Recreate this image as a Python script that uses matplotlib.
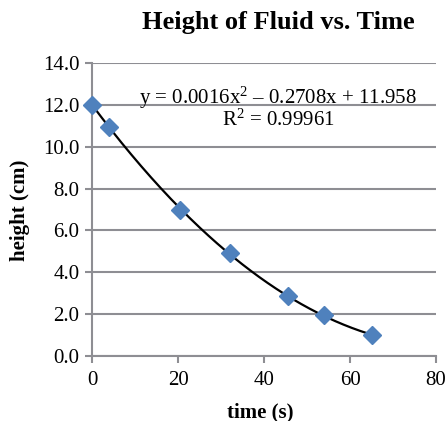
import matplotlib.pyplot as plt
import numpy as np

# values
time_s = [0, 4, 20.5, 32, 45.5, 54, 65]
height_cm = [12.0, 10.95, 7.0, 4.9, 2.85, 1.95, 1.0]
y_ticks = [0, 2, 4, 6, 8, 10, 12, 14]
x_ticks = [0, 20, 40, 60, 80]

plt.rcParams['font.family'] = ['Liberation Serif', 'DejaVu Serif']
plt.rcParams['mathtext.fontset'] = 'custom'
plt.rcParams['mathtext.rm'] = 'Liberation Serif'
plt.rcParams['mathtext.it'] = 'Liberation Serif'

fig = plt.figure(figsize=(4.48, 4.21), dpi=100)
ax = fig.add_axes([92 / 448, 1 - 356 / 421, 344 / 448, 293 / 421])

# 2nd order polynomial trend line
coef = np.polyfit(time_s, height_cm, 2)
xs = np.linspace(min(time_s), max(time_s), 200)
ax.plot(xs, np.polyval(coef, xs), color='black', lw=1.6, zorder=3)
ax.plot(time_s, height_cm, linestyle='none', marker='D', ms=9.5,
        color='#4F81BD', zorder=4, clip_on=False)

ax.set_xlim(0, 80)
ax.set_ylim(0, 14)
ax.set_xticks(x_ticks)
ax.set_yticks(y_ticks)
ax.set_yticklabels([f'{v:.1f}' for v in y_ticks])
ax.tick_params(axis='both', direction='out', length=5, width=1.5,
               color='#8E8E93', labelsize=15)
ax.tick_params(axis='x', pad=6)
ax.tick_params(axis='y', pad=4)
ax.yaxis.grid(True, color='#8E8E93', lw=1.5)
ax.set_axisbelow(True)
for s in ['top', 'right']:
    ax.spines[s].set_visible(False)
for s in ['left', 'bottom']:
    ax.spines[s].set_color('#8E8E93')
    ax.spines[s].set_linewidth(1.5)

ax.text(43.3, 12.35, 'y = 0.0016x$^2$ \u2013 0.2708x + 11.958', ha='center',
        va='center', fontsize=15)
ax.text(43.3, 11.25, 'R$^2$ = 0.99961', ha='center', va='center', fontsize=15)

fig.text(278 / 448, 1 - 22 / 421, 'Height of Fluid vs. Time', ha='center',
         va='center', fontsize=19, fontweight='bold')
fig.text(260 / 448, 1 - 412 / 421, 'time (s)', ha='center', va='center',
         fontsize=15, fontweight='bold')
fig.text(20 / 448, 1 - 210 / 421, 'height (cm)', ha='center', va='center',
         rotation=90, fontsize=15, fontweight='bold')

fig.savefig('out.png', dpi=100)
